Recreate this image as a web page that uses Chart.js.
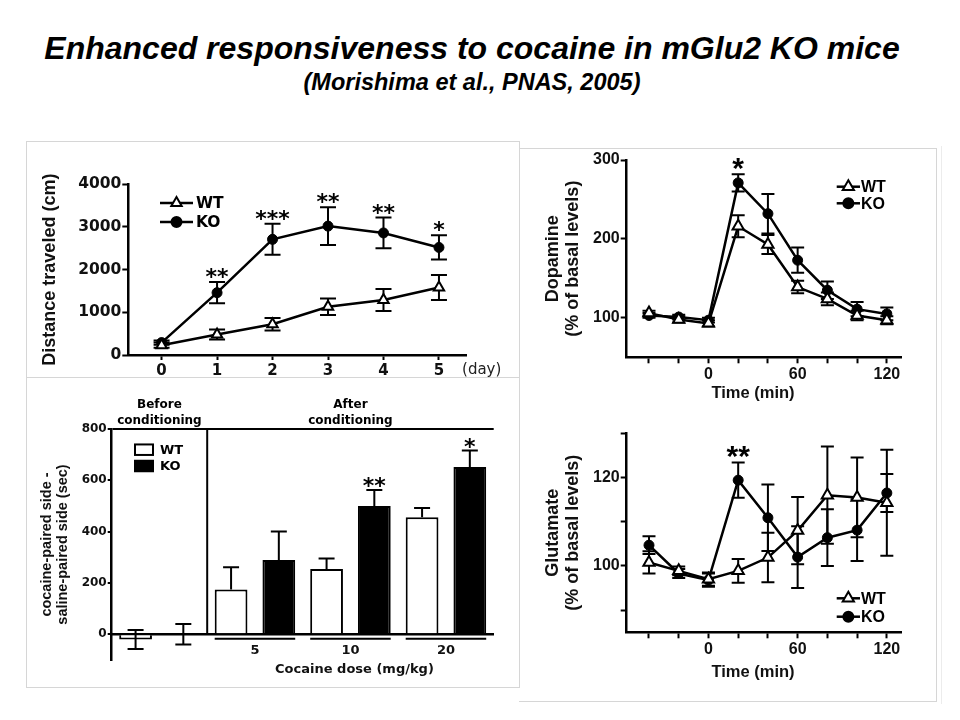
<!DOCTYPE html>
<html><head><meta charset="utf-8">
<script src="https://cdn.jsdelivr.net/npm/chart.js"></script>
<style>
html,body{margin:0;padding:0;background:#fff;}
body{width:960px;height:720px;position:relative;overflow:hidden;font-family:"Liberation Sans",Arial,sans-serif;}
.ttl{position:absolute;left:0;width:944px;text-align:center;font-style:italic;font-weight:bold;color:#000;white-space:nowrap;}
#t1{top:29px;font-size:32px;line-height:38px;}
#t2{top:68px;font-size:23.5px;line-height:28px;}
.box{position:absolute;box-sizing:border-box;border:1px solid #d6d6d6;}
canvas{position:absolute;}
</style></head><body>
<div class="ttl" id="t1">Enhanced responsiveness to cocaine in mGlu2 KO mice</div>
<div class="ttl" id="t2">(Morishima et al., PNAS, 2005)</div>
<div class="box" style="left:519px;top:148px;width:418px;height:554px;border-left:none;"></div>
<div style="position:absolute;left:941px;top:146px;width:1px;height:558px;background:#ececec;"></div>
<div class="box" style="left:26px;top:141px;width:494px;height:237px;"></div>
<div class="box" style="left:26px;top:377px;width:494px;height:311px;"></div>
<canvas id="cA" width="519" height="260" style="left:0;top:130px;"></canvas>
<canvas id="cB" width="519" height="313" style="left:0;top:377px;"></canvas>
<canvas id="cC" width="418" height="264" style="left:519px;top:148px;"></canvas>
<canvas id="cD" width="418" height="290" style="left:519px;top:412px;"></canvas>
<script>
// ---------- Panel A: distance traveled per day ----------
const daysA = [0, 1, 2, 3, 4, 5];
const wtDistA = [230, 480, 720, 1130, 1290, 1580];
const koDistA = [290, 1460, 2710, 3020, 2860, 2520];
const wtErrA = [60, 117, 145, 195, 258, 293];
const koErrA = [50, 250, 363, 440, 360, 285];
const sigA = ['', '**', '***', '**', '**', '*'];
const yTicksA = [0, 1000, 2000, 3000, 4000];

// ---------- Panel B: place preference ----------
const groupsB = ['', '5', '10', '20'];
const wtPrefB = [-20, 175, 255, 456];
const koPrefB = [0, 290, 500, 652];
const wtErrB = [37, 86, 40, 36];
const koErrB = [40, 111, 62, 64];
const twoSidedB = [true, false, false, false];
const sigB = ['', '', '**', '*'];
const yTicksB = [0, 200, 400, 600, 800];

// ---------- Panels C & D: microdialysis ----------
const timeMin = [-40, -20, 0, 20, 40, 60, 80, 100, 120];
const timeLabels = [0, 60, 120];
const wtDopa = [106, 98, 93, 216, 193, 139, 124, 103, 97];
const koDopa = [103, 101, 97, 271, 232, 173, 135, 111, 105];
const wtDopaErr = [3, 4, 4, 14, 12, 8, 8, 6, 5];
const koDopaErr = [3, 3, 3, 11, 25, 16, 11, 9, 8];
const sigDopa = ['', '', '', '*', '', '', '', '', ''];
const yTicksC = [100, 200, 300];
const yLabelsC = [100, 200, 300];

const wtGlu = [100.8, 98.9, 97.0, 98.9, 101.9, 108.0, 116.0, 115.5, 114.3];
const koGlu = [104.7, 98.3, 96.8, 119.4, 110.9, 102.0, 106.4, 108.1, 116.5];
const wtGluErr = [2.5, 1.0, 1.5, 2.7, 5.6, 7.6, 11, 9, 12];
const koGluErr = [2.0, 1.0, 1.5, 4.0, 7.5, 7.0, 6.4, 7.0, 4.3];
const sigGlu = ['', '', '', '**', '', '', '', '', ''];
const yTicksD = [90, 100, 110, 120, 130];
const yLabelsD = [100, 120];

Chart.defaults.font.family = '"Liberation Sans", Arial, sans-serif';
Chart.defaults.color = '#000';
Chart.defaults.animation = false;
Chart.defaults.plugins.legend.display = false;
Chart.defaults.plugins.tooltip.enabled = false;

function val(v, c) { return typeof v === 'function' ? v(c) : v; }

function drawMarker(ctx, style, x, y, r, fill) {
  ctx.beginPath();
  if (style === 'triangle') {
    ctx.moveTo(x, y - r);
    ctx.lineTo(x + r * 0.866, y + r * 0.5);
    ctx.lineTo(x - r * 0.866, y + r * 0.5);
    ctx.closePath();
  } else {
    ctx.arc(x, y, r, 0, Math.PI * 2);
  }
  ctx.fillStyle = fill; ctx.fill();
  ctx.lineWidth = 2; ctx.strokeStyle = '#000'; ctx.stroke();
}

function makeExtras(o) {
  function drawErr(chart) {
    const ctx = chart.ctx, ys = chart.scales.y;
    chart.data.datasets.forEach((ds, di) => {
      if (!ds.errors) return;
      const meta = chart.getDatasetMeta(di);
      ctx.save();
      ctx.strokeStyle = '#000';
      ctx.lineWidth = o.errWidth || 2;
      meta.data.forEach((el, i) => {
        const e = ds.errors[i];
        if (e == null) return;
        const raw = ds.data[i];
        const v = (raw !== null && typeof raw === 'object') ? raw.y : raw;
        const two = ds.twoSided ? ds.twoSided[i] : true;
        const x = el.x;
        const yT = ys.getPixelForValue(v + e);
        const yB = ys.getPixelForValue(two ? v - e : v);
        const h = o.capHalf || 6;
        ctx.beginPath();
        ctx.moveTo(x, yT); ctx.lineTo(x, yB);
        ctx.moveTo(x - h, yT); ctx.lineTo(x + h, yT);
        if (two) { ctx.moveTo(x - h, yB); ctx.lineTo(x + h, yB); }
        ctx.stroke();
      });
      ctx.restore();
    });
  }
  function drawSig(chart) {
    const s = o.sig; if (!s) return;
    const ctx = chart.ctx, ys = chart.scales.y;
    const ds = chart.data.datasets[s.dataset];
    const meta = chart.getDatasetMeta(s.dataset);
    ctx.save();
    ctx.font = s.font; ctx.fillStyle = '#000';
    ctx.textAlign = 'center'; ctx.textBaseline = 'alphabetic';
    s.labels.forEach((lab, i) => {
      if (!lab) return;
      const raw = ds.data[i];
      const v = (raw !== null && typeof raw === 'object') ? raw.y : raw;
      const y = ys.getPixelForValue(v + (ds.errors ? ds.errors[i] : 0)) + s.offset;
      ctx.fillText(lab, meta.data[i].x, y);
    });
    ctx.restore();
  }
  function drawLegend(chart) {
    const L = o.legend; if (!L) return;
    const ctx = chart.ctx;
    ctx.save();
    chart.data.datasets.forEach((ds, k) => {
      const y = L.y + k * L.dy;
      if (L.kind === 'box') {
        ctx.fillStyle = ds.backgroundColor;
        ctx.fillRect(L.x, y - L.bh / 2, L.bw, L.bh);
        ctx.lineWidth = 2; ctx.strokeStyle = '#000';
        ctx.strokeRect(L.x, y - L.bh / 2, L.bw, L.bh);
        ctx.font = L.font; ctx.fillStyle = '#000';
        ctx.textAlign = 'left'; ctx.textBaseline = 'middle';
        ctx.fillText(ds.label, L.x + L.bw + L.gap, y + 1);
      } else {
        ctx.beginPath();
        ctx.moveTo(L.x, y); ctx.lineTo(L.x + L.len, y);
        ctx.lineWidth = ds.borderWidth; ctx.strokeStyle = '#000'; ctx.stroke();
        drawMarker(ctx, ds.pointStyle, L.x + L.len / 2, y, ds.pointRadius, ds.pointBackgroundColor);
        ctx.font = L.font; ctx.fillStyle = '#000';
        ctx.textAlign = 'left'; ctx.textBaseline = 'middle';
        ctx.fillText(ds.label, L.x + L.len + L.gap, y + 1);
      }
    });
    ctx.restore();
  }
  function drawLines(chart) {
    if (!o.lines) return;
    const ctx = chart.ctx;
    ctx.save();
    ctx.strokeStyle = '#000'; ctx.lineWidth = 2;
    o.lines.forEach(fn => {
      fn(chart).forEach(l => {
        ctx.beginPath(); ctx.moveTo(l[0], l[1]); ctx.lineTo(l[2], l[3]); ctx.stroke();
      });
    });
    ctx.restore();
  }
  function drawTexts(chart) {
    if (!o.texts) return;
    const ctx = chart.ctx;
    ctx.save();
    o.texts.forEach(t => {
      ctx.font = t.font; ctx.fillStyle = t.color || '#000';
      ctx.textAlign = t.align || 'center'; ctx.textBaseline = 'middle';
      ctx.fillText(t.text, val(t.x, chart), val(t.y, chart));
    });
    ctx.restore();
  }
  return {
    id: 'extras',
    beforeDatasetsDraw(chart) { if (!o.errAfter) drawErr(chart); },
    afterDatasetsDraw(chart) {
      if (o.errAfter) drawErr(chart);
      drawSig(chart); drawLegend(chart); drawLines(chart); drawTexts(chart);
    }
  };
}

function setTicks(arr) { return s => { s.ticks = arr.map(v => ({ value: v })); }; }
const plain = v => String(v);

// ================= Panel A =================
new Chart(document.getElementById('cA'), {
  type: 'line',
  data: {
    datasets: [
      { label: 'WT', data: daysA.map((d, i) => ({ x: d, y: wtDistA[i] })), errors: wtErrA,
        borderColor: '#000', borderWidth: 2.5, pointStyle: 'triangle', pointRadius: 6,
        pointBackgroundColor: '#fff', pointBorderColor: '#000', pointBorderWidth: 2 },
      { label: 'KO', data: daysA.map((d, i) => ({ x: d, y: koDistA[i] })), errors: koErrA,
        borderColor: '#000', borderWidth: 2.5, pointStyle: 'circle', pointRadius: 5,
        pointBackgroundColor: '#000', pointBorderColor: '#000', pointBorderWidth: 1 }
    ]
  },
  options: {
    responsive: false, animation: false, devicePixelRatio: 1,
    layout: { padding: { left: 0, top: 54.3, right: 52.3, bottom: 0 } },
    scales: {
      x: {
        type: 'linear', min: -0.6, max: 5.5,
        afterFit: s => { s.height = 35; },
        afterBuildTicks: setTicks(daysA),
        grid: { drawOnChartArea: false, drawTicks: true, tickLength: 5, tickColor: '#000', tickWidth: 2 },
        border: { color: '#000', width: 2.5 },
        ticks: { autoSkip: false, maxRotation: 0, padding: 2, color: '#111', callback: plain,
                 font: { family: 'DejaVu Sans', weight: 'bold', size: 15 } }
      },
      y: {
        min: 0, max: 4000,
        afterFit: s => { s.width = 128.3; },
        afterBuildTicks: setTicks(yTicksA),
        grid: { drawOnChartArea: false, drawTicks: true, tickLength: 6, tickColor: '#000', tickWidth: 2 },
        border: { color: '#000', width: 2.5 },
        ticks: { padding: 1, color: '#111', callback: plain, font: { family: 'DejaVu Sans', weight: 'bold', size: 15.5 } },
        title: { display: true, text: 'Distance traveled (cm)', color: '#111',
                 font: { family: 'Liberation Sans', weight: 'bold', size: 18 }, padding: { top: 39.2, bottom: 0 } }
      }
    }
  },
  plugins: [makeExtras({
    capHalf: 8, errWidth: 2,
    sig: { dataset: 1, labels: sigA, font: 'bold 22px "DejaVu Sans"', offset: 2 },
    legend: { kind: 'line', x: 160, y: 73, dy: 19, len: 33, gap: 3, font: 'bold 15.5px "DejaVu Sans"' },
    texts: [{ text: '(day)', x: c => c.chartArea.right + 15, y: c => c.chartArea.bottom + 15,
              font: '15px "DejaVu Sans"', color: '#222' }]
  })]
});

// ================= Panel B =================
new Chart(document.getElementById('cB'), {
  type: 'bar',
  data: {
    labels: groupsB,
    datasets: [
      { label: 'WT', data: wtPrefB, errors: wtErrB, twoSided: twoSidedB,
        backgroundColor: '#fff', borderColor: '#000', borderWidth: 2,
        categoryPercentage: 1.0, barPercentage: 0.686 },
      { label: 'KO', data: koPrefB, errors: koErrB, twoSided: twoSidedB,
        backgroundColor: '#000', borderColor: '#000', borderWidth: 2,
        categoryPercentage: 1.0, barPercentage: 0.686 }
    ]
  },
  options: {
    responsive: false, animation: false, devicePixelRatio: 1,
    layout: { padding: { left: 0, top: 52, right: 25.3, bottom: 30 } },
    scales: {
      x: {
        type: 'category', position: { y: 0 }, offset: true, z: 1,
        grid: { display: false, drawTicks: false },
        border: { color: '#000', width: 2.5 },
        ticks: { padding: 8.9, color: '#111', font: { family: 'DejaVu Sans', weight: 'bold', size: 13 } }
      },
      y: {
        min: -100, max: 800,
        afterFit: s => { s.width = 111.7; },
        afterBuildTicks: setTicks(yTicksB),
        grid: { drawOnChartArea: true, drawTicks: true, tickLength: 4, tickColor: '#000', lineWidth: 2,
                color: c => (c.tick && c.tick.value === yTicksB[yTicksB.length - 1]) ? '#000' : 'rgba(0,0,0,0)' },
        border: { color: '#000', width: 2.5 },
        ticks: { padding: 1, color: '#111', callback: plain, font: { family: 'DejaVu Sans', weight: 'bold', size: 12 } },
        title: { display: true, text: ['cocaine-paired side -', 'saline-paired side (sec)'], color: '#111',
                 font: { family: 'Liberation Sans', weight: 'bold', size: 14.5, lineHeight: 1.15 },
                 padding: { top: 38.3, bottom: 0 } }
      }
    }
  },
  plugins: [makeExtras({
    capHalf: 8, errWidth: 2, errAfter: true,
    sig: { dataset: 1, labels: sigB, font: 'bold 22px "DejaVu Sans"', offset: 3.4 },
    legend: { kind: 'box', x: 135, y: 72.7, dy: 16.3, bw: 18, bh: 10.5, gap: 7, font: 'bold 13px "DejaVu Sans"' },
    lines: [
      c => { const xs = c.scales.x, ys = c.scales.y;
             const x = (xs.getPixelForValue(0) + xs.getPixelForValue(1)) / 2;
             return [[x, ys.getPixelForValue(yTicksB[yTicksB.length - 1]), x, ys.getPixelForValue(0)]]; },
      c => [1, 2, 3].map(i => { const a = c.getDatasetMeta(0).data[i], b = c.getDatasetMeta(1).data[i];
             const y = c.scales.y.getPixelForValue(0) + 4.5;
             return [a.x - a.width / 2, y, b.x + b.width / 2, y]; })
    ],
    texts: [
      { text: 'Before', x: c => c.scales.x.getPixelForValue(0), y: c => c.chartArea.top - 24, font: 'bold 12px "DejaVu Sans"' },
      { text: 'conditioning', x: c => c.scales.x.getPixelForValue(0), y: c => c.chartArea.top - 8, font: 'bold 12px "DejaVu Sans"' },
      { text: 'After', x: c => (c.scales.x.getPixelForValue(1) + c.scales.x.getPixelForValue(3)) / 2, y: c => c.chartArea.top - 24, font: 'bold 12px "DejaVu Sans"' },
      { text: 'conditioning', x: c => (c.scales.x.getPixelForValue(1) + c.scales.x.getPixelForValue(3)) / 2, y: c => c.chartArea.top - 8, font: 'bold 12px "DejaVu Sans"' },
      { text: 'Cocaine dose (mg/kg)', x: c => (c.scales.x.getPixelForValue(1) + c.scales.x.getPixelForValue(3)) / 2 + 4,
        y: c => c.scales.y.getPixelForValue(0) + 35, font: 'bold 13px "DejaVu Sans"', color: '#111' }
    ]
  })]
});

// ================= Panels C & D =================
function timeChart(id, wt, wtErr, ko, koErr, sig, yMin, yMax, yTicks, yLabels, yTitle, pad, xH, titleDy) {
  return new Chart(document.getElementById(id), {
    type: 'line',
    data: {
      datasets: [
        { label: 'WT', data: timeMin.map((t, i) => ({ x: t, y: wt[i] })), errors: wtErr,
          borderColor: '#000', borderWidth: 2.5, pointStyle: 'triangle', pointRadius: 6.5,
          pointBackgroundColor: '#fff', pointBorderColor: '#000', pointBorderWidth: 2 },
        { label: 'KO', data: timeMin.map((t, i) => ({ x: t, y: ko[i] })), errors: koErr,
          borderColor: '#000', borderWidth: 2.5, pointStyle: 'circle', pointRadius: 5,
          pointBackgroundColor: '#000', pointBorderColor: '#000', pointBorderWidth: 1 }
      ]
    },
    options: {
      responsive: false, animation: false, devicePixelRatio: 1,
      layout: { padding: pad },
      scales: {
        x: {
          type: 'linear', min: -55, max: 130,
          afterFit: s => { s.height = xH; },
          afterBuildTicks: setTicks(timeMin),
          grid: { drawOnChartArea: false, drawTicks: true, tickLength: 6, tickColor: '#000', tickWidth: 2 },
          border: { color: '#000', width: 2.5 },
          ticks: { autoSkip: false, maxRotation: 0, padding: 2, color: '#111',
                   font: { family: 'Liberation Sans', weight: 'bold', size: 16 },
                   callback: v => timeLabels.includes(v) ? String(v) : '' }
        },
        y: {
          min: yMin, max: yMax,
          afterFit: s => { s.width = 107.7; },
          afterBuildTicks: setTicks(yTicks),
          grid: { drawOnChartArea: false, drawTicks: true, tickLength: 6, tickColor: '#000', tickWidth: 2 },
          border: { color: '#000', width: 2.5 },
          ticks: { padding: 1, color: '#111', font: { family: 'Liberation Sans', weight: 'bold', size: 16 },
                   callback: v => yLabels.includes(v) ? String(v) : '' },
          title: { display: true, text: [yTitle, '(% of basal levels)'], color: '#111',
                   font: { family: 'Liberation Sans', weight: 'bold', size: 18, lineHeight: 1.12 },
                   padding: { top: 23.9, bottom: 0 } }
        }
      }
    },
    plugins: [makeExtras({
      capHalf: 6.5, errWidth: 2,
      sig: { dataset: 1, labels: sig, font: 'bold 30px "Liberation Sans"', offset: 3.7 },
      legend: { kind: 'line', x: 317.7, y: pad.legendY, dy: pad.legendDy, len: 23.3, gap: 1, font: 'bold 16px "Liberation Sans"' },
      texts: [{ text: 'Time (min)', x: c => (c.scales.x.getPixelForValue(0) + c.scales.x.getPixelForValue(60)) / 2,
                y: c => c.chartArea.bottom + titleDy, font: 'bold 16.5px "Liberation Sans"', color: '#111' }]
    })]
  });
}

timeChart('cC', wtDopa, wtDopaErr, koDopa, koDopaErr, sigDopa, 50, 300, yTicksC, yLabelsC, 'Dopamine',
  { left: 0, top: 12, right: 35.3, bottom: 0, legendY: 38.7, legendDy: 16.6 }, 54.7, 35.7);
timeChart('cD', wtGlu, wtGluErr, koGlu, koGluErr, sigGlu, 85, 130, yTicksD, yLabelsD, 'Glutamate',
  { left: 0, top: 21.3, right: 35.3, bottom: 0, legendY: 186.3, legendDy: 18.4 }, 69.7, 39.7);
</script>
</body></html>
